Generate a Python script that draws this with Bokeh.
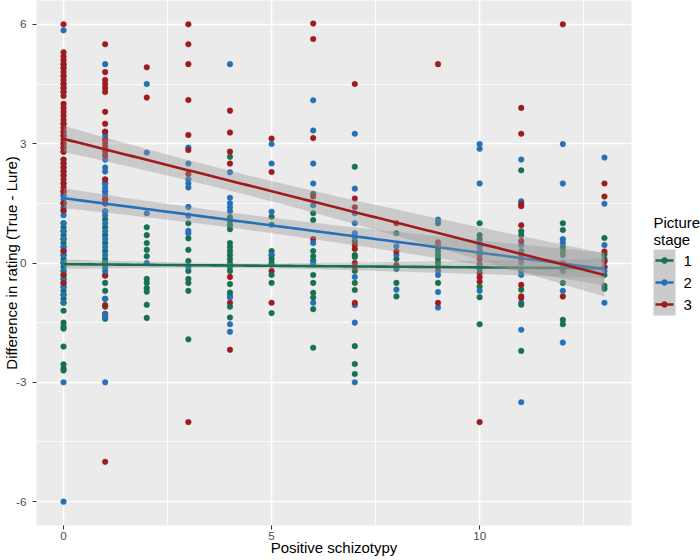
import numpy as np
from bokeh.plotting import figure
from bokeh.layouts import row
from bokeh.models import Range1d, FixedTicker
from bokeh.core.properties import value
from bokeh.embed import file_html
from bokeh.resources import INLINE

FONT = "Liberation Sans"

stage_labels = ["1", "2", "3"]
stage_colors = ["#17704F", "#2670B8", "#9E1B1E"]

# Difference in rating (True - Lure) per positive schizotypy score, by picture stage
stage1 = {
    0: [1.8, 1.7, 1.5, 1.0, 0.9, 0.8, 0.7, 0.6, 0.5, 0.4, 0.3, 0.2, 0.1, 0.0, 0.0, -0.1, -0.2,
        -0.3, -0.4, -0.5, -0.6, -0.7, -0.8, -0.9, -1.0, -1.2, -1.5, -1.6, -1.65, -2.1, -2.55, -2.65, -2.7],
    1: [2.1, 2.0, 1.8, 1.6, 1.5, 1.3, 1.1, 0.9, 0.7, 0.5, 0.3, 0.1, 0.0, -0.1, -0.3, -0.5, -0.7,
        -0.9, -1.1, -1.4],
    2: [0.9, 0.7, 0.5, 0.33, 0.17, -0.4, -0.5, -0.63, -0.72, -1.05, -1.38],
    3: [1.0, 0.62, 0.33, 0.05, -0.2, -0.4, -0.5, -0.7, -1.92],
    4: [2.67, 1.15, 1.05, 0.95, 0.85, 0.5, 0.4, 0.3, 0.2, 0.1, 0.0, -0.1, -0.2, -0.53, -0.74, -1.1, -1.37],
    5: [1.16, 0.96, 0.3, 0.2, 0.1, 0.0, -0.3, -0.5, -1.26],
    6: [1.74, 1.25, 1.08, 0.3, 0.17, 0.06, -0.3, -0.5, -0.75, -0.87, -1.16, -2.13],
    7: [2.42, 0.55, 0.2, 0.15, -0.2, -0.5, -0.68, -2.09, -2.54, -2.79],
    8: [0.75, 0.1, -0.15, -0.5, -0.84],
    9: [1.0, 0.4, 0.3, 0.2, 0.1, 0.0, -0.5],
    10: [1.0, 0.7, 0.6, 0.5, 0.25, -0.15, -0.6, -0.86, -1.54],
    11: [2.33, 0.8, 0.7, 0.3, 0.0, -0.2, -0.67, -1.05, -2.21],
    12: [1.0, 0.83, 0.4, 0.3, 0.2, -0.2, -0.5, -1.43, -1.54],
    13: [0.63, 0.21, 0.1, -0.3, -0.57, -0.65],
}
stage2 = {
    0: [5.85, 5.0, 4.9, 4.7, 4.5, 4.4, 4.3, 3.5, 3.3, 3.2, 3.0, 2.9, 2.8, 2.6, 2.5, 2.4, 2.3, 2.2,
        2.0, 1.8, 1.7, 1.6, 1.5, 1.4, 1.3, 1.2, 1.0, 0.8, 0.6, 0.4, 0.2, 0.0, -0.2, -0.4, -0.6,
        -0.8, -1.0, -3.0, -6.0],
    1: [5.0, 3.3, 3.2, 3.1, 2.6, 2.4, 2.3, 2.0, 1.9, 1.8, 1.7, 1.6, 1.5, 1.3, 1.2, 1.0, 0.8, 0.6,
        0.4, 0.2, 0.0, -0.2, -0.9, -1.3, -1.35, -3.0],
    2: [4.5, 2.78, 1.25, 0.0],
    3: [2.9, 2.5, 2.1, 2.0, 1.9, 1.41, 1.19, 0.81, 0.75, -0.1],
    4: [5.0, 2.28, 1.64, 1.5, 1.4, 1.3, -0.82, -0.87, -1.54, -1.73],
    5: [2.99, 2.5, 1.29, 0.2, -0.05],
    6: [4.09, 3.33, 2.5, 2.0, 1.45, 0.5, 0.0, -1.0],
    7: [3.25, 1.87, 1.25, 1.0, 0.75, 0.65, -0.35, -1.06, -1.5, -3.0],
    8: [0.42, 0.2, -0.1, -0.67],
    9: [1.09, -0.2, -0.3, -0.73, -1.12],
    10: [2.99, 2.87, 2.0, 0.45, 0.4, 0.3, -0.1, -0.7],
    11: [2.6, 1.55, 0.45, -0.3, -1.0, -1.68, -3.5],
    12: [2.99, 2.0, 0.6, 0.5, -0.1, -0.7, -2.0],
    13: [2.65, 1.49, 0.45, 0.05, -0.11, -0.2, -1.0],
}
stage3 = {
    0: [6.0, 5.3, 5.2, 5.1, 5.0, 4.9, 4.8, 4.7, 4.6, 4.5, 4.4, 4.3, 4.2, 4.0, 3.9, 3.8, 3.7, 3.6,
        3.5, 3.4, 3.3, 3.2, 3.1, 3.0, 2.9, 2.8, 2.6, 2.5, 2.4, 2.3, 2.2, 2.1, 2.0, 1.9, 1.8, 1.5,
        1.33, 0.3, -0.3, -0.5],
    1: [5.5, 4.8, 4.6, 4.5, 4.4, 4.3, 3.8, 3.5, 3.3, 3.1, 3.0, 2.9, 2.8, 2.7, 2.1, 1.6, 1.5,
        -0.32, -1.06, -1.28, -5.0],
    2: [4.92, 4.16],
    3: [6.0, 5.5, 5.0, 4.1, 3.22, 2.84, 2.24, -4.0],
    4: [3.83, 3.28, 2.8, 2.5, -0.35, -1.0, -2.18],
    5: [3.13, 2.29, -0.2, -1.0],
    6: [6.02, 5.63, 3.14, 1.67, 0.6],
    7: [4.5, 1.62, 1.4, 0.45, 0.35, 0.0, -0.1, -1.0],
    8: [1.0, 0.29, -0.05],
    9: [5.0, 0.52, 0.45, -0.1, -1.0],
    10: [0.2, 0.1, -0.03, -0.25, -0.36, -0.47, -4.0],
    11: [3.9, 3.25, 1.49, 1.43, 0.95, 0.55, 0.2, 0.1, -0.55, -0.84, -0.88],
    12: [6.0, 0.0, -0.84],
    13: [2.0, 1.67, 0.29, 0.04, -0.1],
}

# Linear fits per stage
fit_intercept = [-0.03, 1.63, 3.12]
fit_slope = [-0.008, -0.137, -0.263]
# 95% confidence band: half width at score 0, minimum half width, score at the minimum
band_half_at0 = [0.12, 0.25, 0.33]
band_half_min = [0.06, 0.19, 0.25]
band_x_min = [4.0, 4.0, 4.0]

x_ticks = [0, 5, 10]
y_ticks = [-6, -3, 0, 3, 6]

# ---- main panel -------------------------------------------------------------
p = figure(width=640, height=560, output_backend="svg", toolbar_location=None,
           x_range=Range1d(-0.65, 13.65), y_range=Range1d(-6.6, 6.6),
           min_border_left=35, min_border_right=9, min_border_top=0, min_border_bottom=35,
           x_axis_label="Positive schizotypy",
           y_axis_label="Difference in rating (True - Lure)")
p.background_fill_color = "#EBEBEB"
p.border_fill_color = "white"
p.outline_line_color = None

p.xgrid.ticker = FixedTicker(ticks=x_ticks, minor_ticks=[2.5, 7.5, 12.5])
p.ygrid.ticker = FixedTicker(ticks=y_ticks, minor_ticks=[-4.5, -1.5, 1.5, 4.5])
for g in (p.xgrid, p.ygrid):
    g.grid_line_color = "white"
    g.grid_line_width = 1.6
    g.minor_grid_line_color = "white"
    g.minor_grid_line_width = 0.8

p.xaxis.ticker = FixedTicker(ticks=x_ticks)
p.yaxis.ticker = FixedTicker(ticks=y_ticks)
p.yaxis.major_label_overrides = {t: str(t) for t in y_ticks}
for ax in (p.xaxis, p.yaxis):
    ax.axis_line_color = None
    ax.major_tick_line_color = "#333333"
    ax.major_tick_line_width = 1.1
    ax.major_tick_out = 4
    ax.major_tick_in = 0
    ax.minor_tick_out = 0
    ax.minor_tick_in = 0
    ax.major_label_text_font = FONT
    ax.major_label_text_font_size = "11.7px"
    ax.major_label_text_color = "#4D4D4D"
    ax.axis_label_text_font = FONT
    ax.axis_label_text_font_size = "15px"
    ax.axis_label_text_font_style = "normal"
    ax.axis_label_text_color = "black"
p.xaxis.major_label_standoff = 2
p.xaxis.axis_label_standoff = -4
p.yaxis.major_label_standoff = 6
p.yaxis.axis_label_standoff = -7

# points, interleaved across stages within each score
stages = [stage1, stage2, stage3]
px, py, pc = [], [], []
for score in range(14):
    cols = [s.get(score, []) for s in stages]
    for i in range(max(len(c) for c in cols)):
        for k, c in enumerate(cols):
            if i < len(c):
                px.append(score)
                py.append(c[i])
                pc.append(stage_colors[k])
p.scatter(x=px, y=py, fill_color=pc, line_color=pc, line_width=0.5, size=5.6)

# fitted lines with confidence ribbons
xf = np.linspace(0, 13, 80)
for k in range(3):
    fit = fit_intercept[k] + fit_slope[k] * xf
    curv = (band_half_at0[k] ** 2 - band_half_min[k] ** 2) / band_x_min[k] ** 2
    half = np.sqrt(band_half_min[k] ** 2 + curv * (xf - band_x_min[k]) ** 2)
    p.varea(x=xf, y1=fit - half, y2=fit + half, fill_color="#999999", fill_alpha=0.4)
    p.line(xf, fit, line_color=stage_colors[k], line_width=2.6)

# ---- legend (its frame is aligned with the panel: pixel rows 0..525) --------
lg = figure(width=60, height=560, output_backend="svg", toolbar_location=None,
            x_range=Range1d(0, 60), y_range=Range1d(525, 0), min_border=0,
            x_axis_location=None, y_axis_location=None)
lg.grid.visible = False
lg.outline_line_color = None
lg.background_fill_color = "white"
lg.border_fill_color = "white"

key_y = [260, 282, 304]
lg.quad(left=13, right=35, top=249, bottom=315, fill_color="#CBCBCB", line_color=None)
lg.segment(x0=[15] * 3, x1=[33] * 3, y0=key_y, y1=key_y, line_color=stage_colors, line_width=2.6)
lg.scatter(x=[24] * 3, y=key_y, fill_color=stage_colors, line_color=stage_colors, size=5.6)
lg.text(x=[43] * 3, y=key_y, text=stage_labels, text_baseline="middle",
        text_font=value(FONT), text_font_size="15px", text_color="black")
lg.text(x=[13, 13], y=[222, 239], text=["Picture", "stage"], text_baseline="alphabetic",
        text_font=value(FONT), text_font_size="15px", text_color="black")

layout = row(p, lg)
open("out.html", "w").write(file_html(layout, INLINE))
